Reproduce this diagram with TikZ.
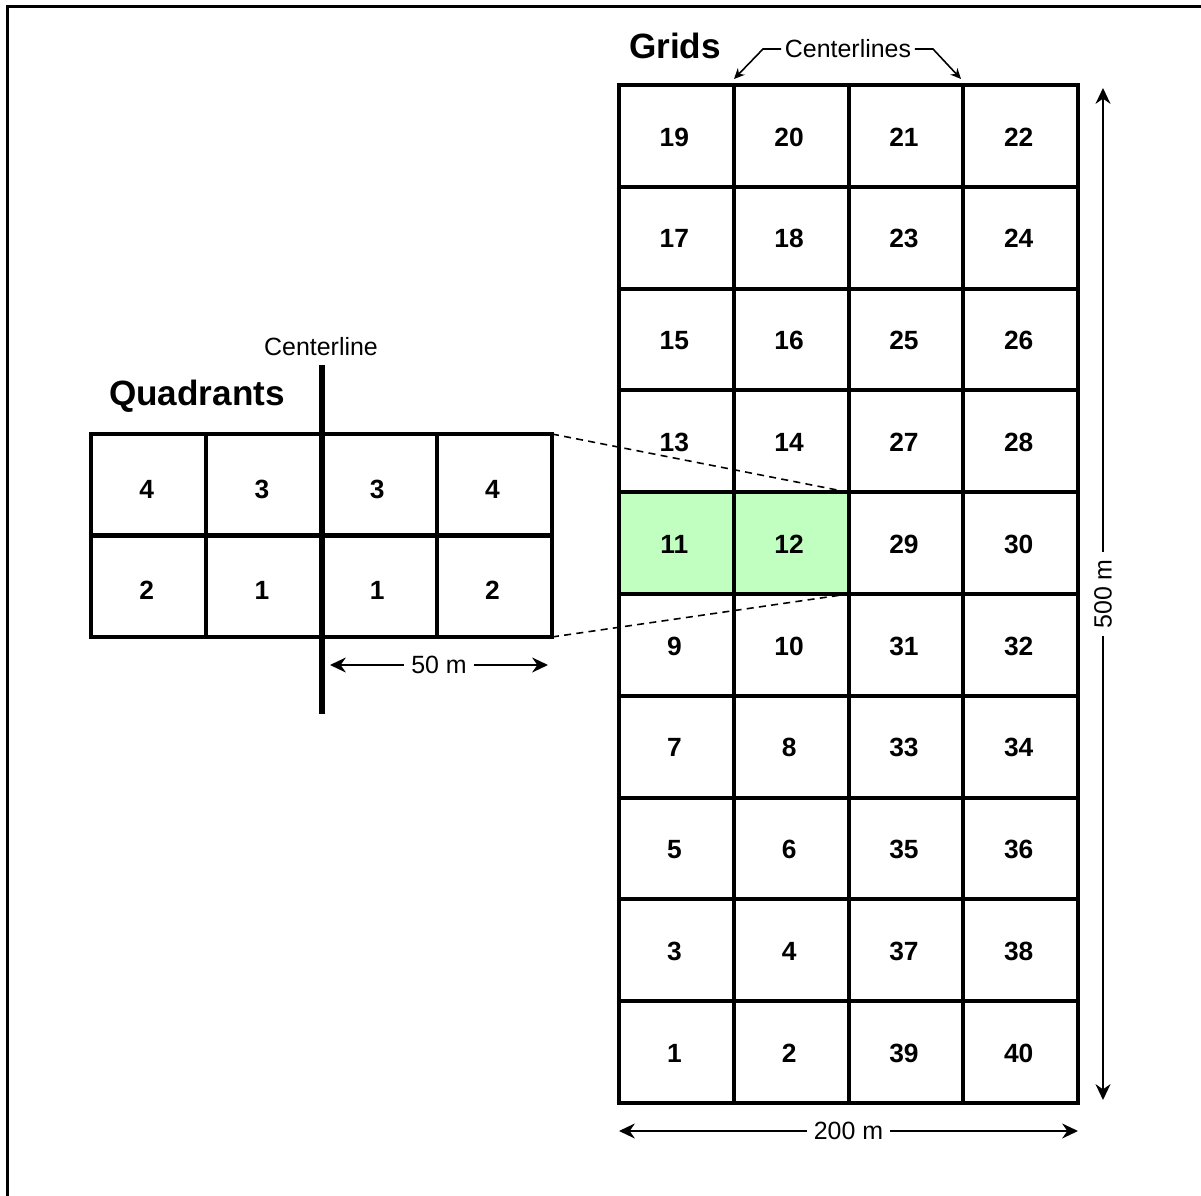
\documentclass[tikz,border=0pt]{standalone}
\usepackage{fontspec}
\setmainfont{Liberation Sans}
\usetikzlibrary{arrows.meta}
\definecolor{cellgreen}{RGB}{192,255,192}
\tikzset{
  gcell/.style={draw=black, line width=2.3pt, minimum width=2.295cm, minimum height=2.036cm, inner sep=0pt, outer sep=0pt},
  qcell/.style={draw=black, line width=2.3pt, minimum width=2.305cm, minimum height=2.03cm, inner sep=0pt, outer sep=0pt},
  num/.style={font=\fontsize{15}{18}\selectfont\bfseries, inner sep=0pt, text height=10.7pt, text depth=0pt},
  c11/.style={fill=cellgreen},
  c12/.style={fill=cellgreen},
  title/.style={font=\fontsize{20}{24}\selectfont\bfseries, inner sep=0pt},
  lbl/.style={font=\fontsize{14.2}{17}\selectfont, inner sep=0pt},
  dimlbl/.style={font=\fontsize{14.2}{17}\selectfont, fill=white, inner sep=4pt},
  dimarrow/.style={line width=1.1pt, {Stealth[length=9pt,width=8.5pt]}-{Stealth[length=9pt,width=8.5pt]}},
  callout/.style={line width=0.9pt, -{Stealth[length=6pt,width=5.5pt]}},
  zoomline/.style={line width=0.9pt, dash pattern=on 4pt off 3pt},
  centerline/.style={line width=3.4pt},
}
\begin{document}
\begin{tikzpicture}[x=0.02cm,y=-0.02cm]
\useasboundingbox (0,0) rectangle (1201,1196);
% frame
\draw[line width=1.6pt] (7.5,1196) -- (7.5,6.5) -- (1201,6.5);

% grid
\foreach \row [count=\i from 0] in {{19,20,21,22},{17,18,23,24},{15,16,25,26},{13,14,27,28},{11,12,29,30},{9,10,31,32},{7,8,33,34},{5,6,35,36},{3,4,37,38},{1,2,39,40}}{
  \foreach \n [count=\j from 0] in \row {
    \node[gcell, c\n/.try] (g\n) at ({676.4+114.75*\j},{135.9+101.8*\i}) {};
    \node[num] (gt\n) at ([xshift=-2*0.02cm, yshift=-0.8*0.02cm]g\n.center) {\n};
  }
}

% quadrants
\foreach \row [count=\i from 0] in {{4,3,3,4},{2,1,1,2}}{
  \foreach \n [count=\j from 0] in \row {
    \node[qcell] (q\i\j) at ({148.6+115.25*\j},{484.75+101.5*\i}) {};
    \node[num] (qt\i\j) at ([xshift=-2*0.02cm, yshift=-4*0.02cm]q\i\j.center) {\n};
  }
}

% centerline through quadrants
\coordinate (cltop) at (322,365);
\coordinate (clbot) at (322,714);
\draw[centerline] (cltop) -- (clbot);
\node[lbl] (cltext) at (321,347) {Centerline};

% titles
\node[title] (grids) at (675,46) {Grids};
\node[title] (quads) at (197,396) {Quadrants};

% zoom lines
\draw[zoomline] (q03.north east) -- (g12.north east);
\draw[zoomline] (q13.south east) -- (g12.south east);

% centerlines callout
\node[lbl] (cls) at (848,49) {Centerlines};
\coordinate (lbend) at (763,49);
\coordinate (ltip) at (734,79);
\coordinate (rbend) at (933,49);
\coordinate (rtip) at (961,79);
\draw[callout] ([xshift=-2pt]cls.west) -- (lbend) -- (ltip);
\draw[callout] ([xshift=2pt]cls.east) -- (rbend) -- (rtip);

% 50 m
\coordinate (f1) at (330,665);
\coordinate (f2) at (548,665);
\draw[dimarrow] (f1) -- node[dimlbl] (fifty) {50 m} (f2);

% 200 m
\coordinate (t1) at (619,1131);
\coordinate (t2) at (1078,1131);
\draw[dimarrow] (t1) -- node[dimlbl] (twoh) {200 m} (t2);

% 500 m
\coordinate (v1) at (1103,88);
\coordinate (v2) at (1103,1100);
\draw[dimarrow] (v2) -- node[dimlbl, rotate=90] (fiveh) {500 m} (v1);
\end{tikzpicture}
\end{document}
